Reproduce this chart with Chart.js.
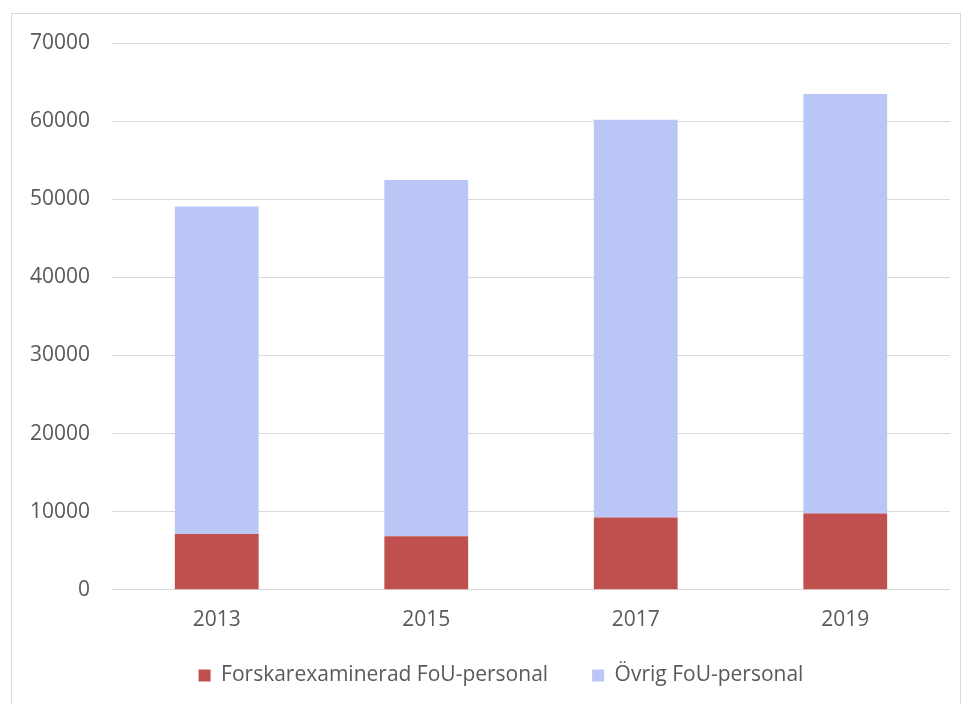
<!DOCTYPE html>
<html>
<head>
<meta charset="utf-8">
<script src="https://cdn.jsdelivr.net/npm/chart.js@4/dist/chart.umd.min.js"></script>
<style>
  html, body { margin: 0; padding: 0; background: #ffffff; }
  #frame { position: absolute; left: 11px; top: 13px; width: 950px; height: 700px; border: 1px solid #d9d9d9; box-sizing: border-box; }
  #wrap { position: absolute; left: 0; top: 0; width: 965px; height: 704px; }
</style>
</head>
<body>
<div id="frame"></div>
<div id="wrap"><canvas id="c" width="965" height="704"></canvas></div>
<script>
// FoU-personal per år
const years = ['2013', '2015', '2017', '2019'];
const forskarexaminerad = [7140, 6840, 9270, 9780];
const ovrig = [41920, 45630, 50900, 53680];
const seriesNames = ['Forskarexaminerad FoU-personal', 'Övrig FoU-personal'];
const yTicks = [0, 10000, 20000, 30000, 40000, 50000, 60000, 70000];

const textColor = '#595959';
const fontFamily = "'Open Sans', 'Liberation Sans', sans-serif";

// nudge the legend box after layout so it sits centred under the plot frame
const legendOffset = {
  id: 'legendOffset',
  afterLayout(chart, args, opts) {
    const lg = chart.legend;
    if (!lg) return;
    lg.left += opts.dx; lg.right += opts.dx;
    lg.top += opts.dy; lg.bottom += opts.dy;
  }
};

new Chart(document.getElementById('c'), {
  type: 'bar',
  data: {
    labels: years,
    datasets: [
      { label: seriesNames[0], data: forskarexaminerad, backgroundColor: '#c0504d', borderWidth: 0 },
      { label: seriesNames[1], data: ovrig, backgroundColor: '#b9c6f6', borderWidth: 0 }
    ]
  },
  plugins: [legendOffset],
  options: {
    responsive: false,
    animation: false,
    layout: { padding: { top: 43, right: 15, left: 0, bottom: -22 } },
    datasets: { bar: { barPercentage: 0.4, categoryPercentage: 1.0 } },
    plugins: {
      tooltip: { enabled: false },
      legendOffset: { dx: 26, dy: -30 },
      legend: {
        position: 'bottom',
        labels: {
          color: textColor,
          font: { family: fontFamily, size: 21 },
          boxWidth: 12,
          boxHeight: 12,
          padding: 44
        }
      }
    },
    scales: {
      x: {
        stacked: true,
        grid: { display: false, drawTicks: false },
        border: { display: false },
        ticks: { color: textColor, font: { family: fontFamily, size: 21 }, padding: 18 }
      },
      y: {
        stacked: true,
        min: yTicks[0],
        max: yTicks[yTicks.length - 1],
        afterBuildTicks: (scale) => { scale.ticks = yTicks.map(v => ({ value: v })); },
        afterFit: (scale) => { scale.width = 112; },
        grid: { color: '#d9d9d9', lineWidth: 1, drawTicks: false },
        border: { display: false },
        ticks: {
          color: textColor,
          font: { family: fontFamily, size: 21 },
          padding: 22,
          callback: (v) => String(v)
        }
      }
    }
  }
});
</script>
</body>
</html>
